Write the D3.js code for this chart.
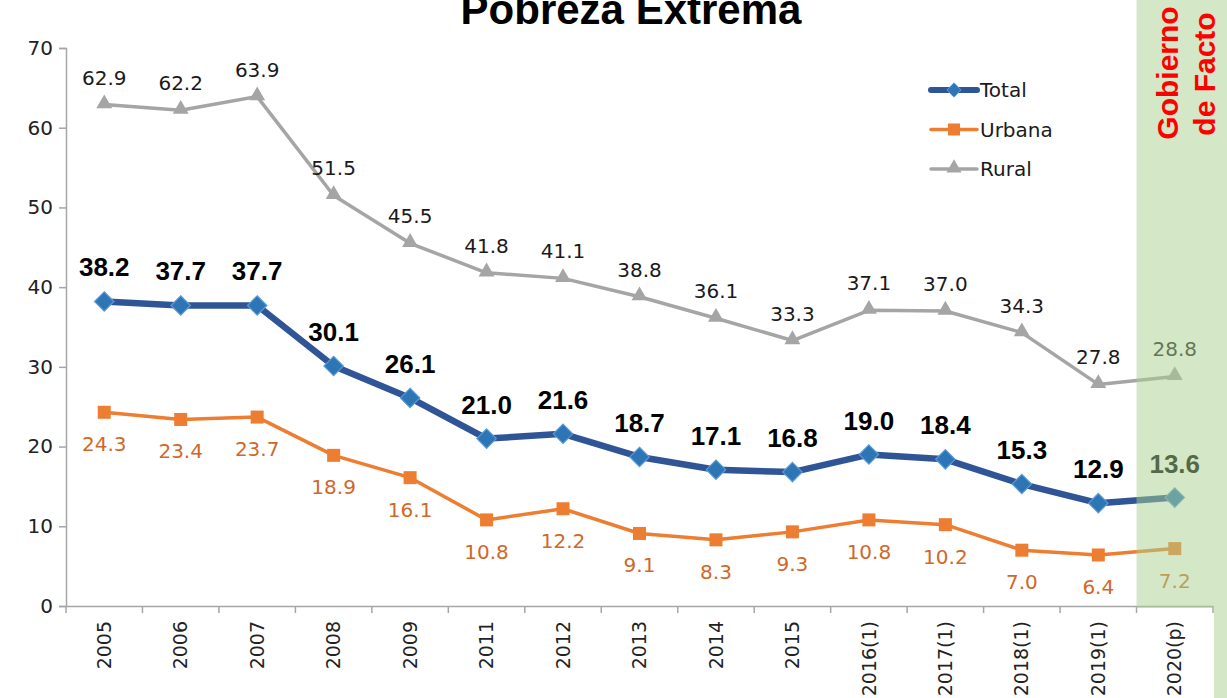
<!DOCTYPE html>
<html>
<head>
<meta charset="utf-8">
<script src="https://cdn.jsdelivr.net/npm/d3@7"></script>
<style>
  body { margin: 0; background: #fff; }
  svg { display: block; }
</style>
</head>
<body>
<div id="chart"></div>
<script>
// Data
const years = ["2005", "2006", "2007", "2008", "2009", "2011", "2012", "2013", "2014", "2015",
               "2016(1)", "2017(1)", "2018(1)", "2019(1)", "2020(p)"];
const total  = [38.2, 37.7, 37.7, 30.1, 26.1, 21.0, 21.6, 18.7, 17.1, 16.8, 19.0, 18.4, 15.3, 12.9, 13.6];
const urbana = [24.3, 23.4, 23.7, 18.9, 16.1, 10.8, 12.2, 9.1, 8.3, 9.3, 10.8, 10.2, 7.0, 6.4, 7.2];
const rural  = [62.9, 62.2, 63.9, 51.5, 45.5, 41.8, 41.1, 38.8, 36.1, 33.3, 37.1, 37.0, 34.3, 27.8, 28.8];
const yTicks = [0, 10, 20, 30, 40, 50, 60, 70];
const highlightYear = "2020(p)";

const W = 1227, H = 698;
const margin = { top: 48, right: 14, bottom: 92, left: 66 };
const width = W - margin.left - margin.right;
const height = H - margin.top - margin.bottom;

const svgRoot = d3.select("#chart").append("svg")
    .attr("width", W)
    .attr("height", H);

const svg = svgRoot.append("g")
    .attr("transform", `translate(${margin.left},${margin.top})`);

const x = d3.scaleBand().domain(years).range([0, width]);
const y = d3.scaleLinear().domain([0, 70]).range([height, 0]);
const cx = d => x(d) + x.bandwidth() / 2;

const axisColor = "#a6a6a6";
const labelFont = "DejaVu Sans, sans-serif";

// Axes
const yAxis = svg.append("g")
    .call(d3.axisLeft(y).tickValues(yTicks).tickSize(7).tickPadding(6));
yAxis.select(".domain").attr("stroke", axisColor).attr("stroke-width", 1.5);
yAxis.selectAll(".tick line").attr("stroke", axisColor).attr("stroke-width", 1.5);
yAxis.selectAll("text")
    .style("font-family", labelFont)
    .style("font-size", "20px")
    .attr("fill", "#222");

const xAxis = svg.append("g")
    .attr("transform", `translate(0,${height})`)
    .call(d3.axisBottom(x).tickSize(7).tickSizeOuter(0));
xAxis.select(".domain").attr("stroke", axisColor).attr("stroke-width", 1.5);
// ticks sit on the band boundaries
xAxis.selectAll(".tick line")
    .attr("x1", -x.bandwidth() / 2).attr("x2", -x.bandwidth() / 2)
    .attr("stroke", axisColor).attr("stroke-width", 1.5);
svg.append("line")
    .attr("x1", width).attr("x2", width)
    .attr("y1", height).attr("y2", height + 7)
    .attr("stroke", axisColor).attr("stroke-width", 1.5);
xAxis.selectAll("text")
    .style("font-family", labelFont)
    .style("font-size", "19px")
    .attr("fill", "#222")
    .style("text-anchor", "end")
    .attr("transform", "rotate(-90)")
    .attr("x", -15)
    .attr("y", 0)
    .attr("dy", "0.35em");

// Series
const series = [
  { name: "Rural",  values: rural,  color: "#a5a5a5", width: 3.5, marker: "triangle",
    labelColor: "#1a1a1a", dy: -20, bold: false },
  { name: "Urbana", values: urbana, color: "#ed7d31", width: 3.5, marker: "square",
    labelColor: "#d0682a", dy: 39, bold: false },
  { name: "Total",  values: total,  color: "#2f5597", width: 6.5, marker: "diamond",
    labelColor: "#000", dy: -25, bold: true }
];

const line = d3.line()
    .x((d, i) => cx(years[i]))
    .y(d => y(d));

function drawMarker(g, type, color, px, py) {
  if (type === "diamond") {
    g.append("path")
      .attr("d", d3.symbol().type(d3.symbolDiamond2).size(240)())
      .attr("transform", `translate(${px},${py})`)
      .attr("fill", "#2e75b6")
      .attr("stroke", "#5b9bd5")
      .attr("stroke-width", 1.2);
  } else if (type === "square") {
    g.append("rect")
      .attr("x", px - 6.5).attr("y", py - 6.5)
      .attr("width", 13).attr("height", 13)
      .attr("fill", color);
  } else {
    g.append("path")
      .attr("d", d3.symbol().type(d3.symbolTriangle).size(110)())
      .attr("transform", `translate(${px},${py - 1})`)
      .attr("fill", color);
  }
}

series.forEach(s => {
  svg.append("path")
    .datum(s.values)
    .attr("fill", "none")
    .attr("stroke", s.color)
    .attr("stroke-width", s.width)
    .attr("stroke-linejoin", "round")
    .attr("d", line);

  const mg = svg.append("g");
  s.values.forEach((v, i) => drawMarker(mg, s.marker, s.color, cx(years[i]), y(v)));

  svg.append("g").selectAll("text")
    .data(s.values)
    .enter().append("text")
    .attr("x", (d, i) => cx(years[i]))
    .attr("y", d => y(d) + s.dy)
    .attr("text-anchor", "middle")
    .style("font-family", s.bold ? "Liberation Sans, Arial, sans-serif" : labelFont)
    .style("font-size", s.bold ? "26px" : "20px")
    .style("font-weight", s.bold ? "bold" : "normal")
    .attr("fill", s.labelColor)
    .text(d => d.toFixed(1));
});

// Highlight band for the last year (drawn over the marks)
const hx = x(highlightYear);
svgRoot.append("rect")
    .attr("x", margin.left + hx)
    .attr("y", 0)
    .attr("width", W - margin.left - hx)
    .attr("height", margin.top + height + 2)
    .attr("fill", "#a9d08e")
    .attr("opacity", 0.5);
svgRoot.append("rect")
    .attr("x", margin.left + width + 1)
    .attr("y", margin.top + height + 2)
    .attr("width", W - margin.left - width - 1)
    .attr("height", H)
    .attr("fill", "#a9d08e")
    .attr("opacity", 0.5);

// Red rotated annotation
const ann = svgRoot.append("g")
    .style("font-family", "Liberation Sans, Arial, sans-serif")
    .style("font-weight", "bold")
    .style("font-size", "30px")
    .attr("fill", "#ff0000")
    .attr("text-anchor", "middle");
ann.append("text")
    .attr("transform", "translate(1178,73) rotate(-90)")
    .text("Gobierno");
ann.append("text")
    .attr("transform", "translate(1215,74) rotate(-90)")
    .text("de Facto");

// Title
svgRoot.append("text")
    .attr("x", 631)
    .attr("y", 24)
    .attr("text-anchor", "middle")
    .style("font-family", "Liberation Sans, Arial, sans-serif")
    .style("font-weight", "bold")
    .style("font-size", "42px")
    .attr("fill", "#000")
    .text("Pobreza Extrema");

// Legend
const legendItems = [
  { name: "Total",  color: "#2f5597", width: 6, marker: "diamond" },
  { name: "Urbana", color: "#ed7d31", width: 3.5, marker: "square" },
  { name: "Rural",  color: "#a5a5a5", width: 3.5, marker: "triangle" }
];
const legend = svgRoot.append("g").attr("transform", "translate(931,90)");
legendItems.forEach((d, i) => {
  const g = legend.append("g").attr("transform", `translate(0,${i * 39.5})`);
  g.append("line")
    .attr("x1", 0).attr("x2", 46)
    .attr("y1", 0).attr("y2", 0)
    .attr("stroke", d.color)
    .attr("stroke-width", d.width)
    .attr("stroke-linecap", "round");
  if (d.marker === "diamond") {
    g.append("path")
      .attr("d", d3.symbol().type(d3.symbolDiamond2).size(130)())
      .attr("transform", "translate(23,0)")
      .attr("fill", "#2e75b6").attr("stroke", "#5b9bd5");
  } else if (d.marker === "square") {
    g.append("rect").attr("x", 17).attr("y", -6).attr("width", 12).attr("height", 12).attr("fill", d.color);
  } else {
    g.append("path")
      .attr("d", d3.symbol().type(d3.symbolTriangle).size(100)())
      .attr("transform", "translate(23,-1)")
      .attr("fill", d.color);
  }
  g.append("text")
    .attr("x", 49)
    .attr("y", 0)
    .attr("dy", "0.35em")
    .style("font-family", labelFont)
    .style("font-size", "20px")
    .attr("fill", "#1a1a1a")
    .text(d.name);
});
</script>
</body>
</html>
